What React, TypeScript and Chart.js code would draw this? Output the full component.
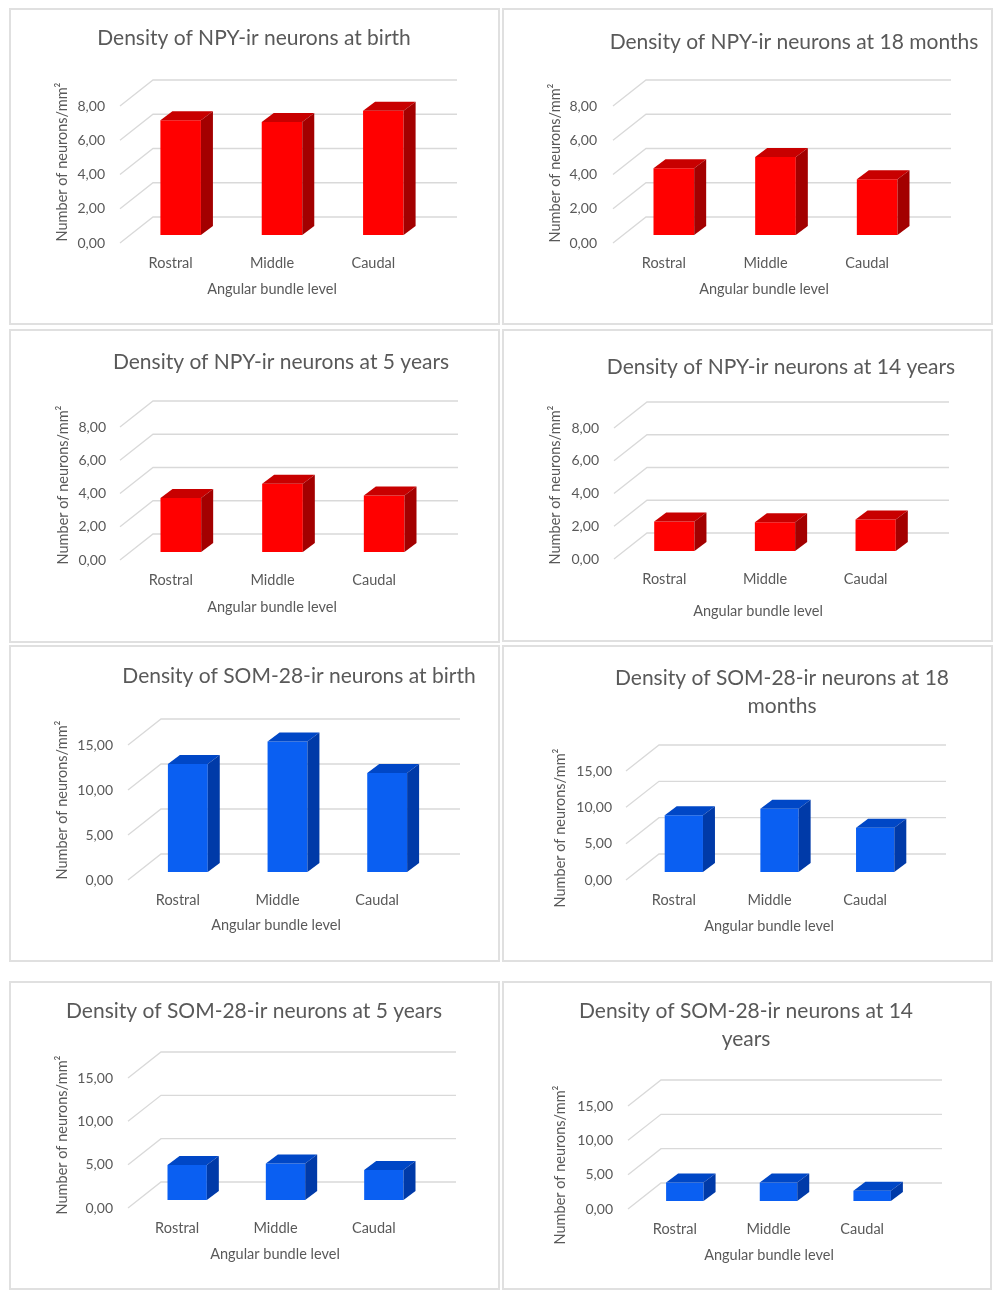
import React, { useEffect, useRef } from "react";
import { Chart, registerables } from "chart.js";

Chart.register(...registerables);

// ---------- data ----------
const categories = ["Rostral", "Middle", "Caudal"];

const npyBirth = [6.7, 6.6, 7.25];
const npy18Months = [3.9, 4.55, 3.25];
const npy5Years = [3.25, 4.1, 3.4];
const npy14Years = [1.8, 1.75, 1.93];

const somBirth = [12.0, 14.5, 11.0];
const som18Months = [7.8, 8.7, 6.1];
const som5Years = [4.05, 4.2, 3.45];
const som14Years = [2.7, 2.7, 1.5];

const npyTicks = [0, 2, 4, 6, 8];
const somTicks = [0, 5, 10, 15];

const xAxisTitle = "Angular bundle level";
const yAxisTitle = "Number of neurons/mm²";

const titleNpyBirth = ["Density of NPY-ir neurons at birth"];
const titleNpy18 = ["Density of NPY-ir neurons at 18 months"];
const titleNpy5 = ["Density of NPY-ir neurons at 5 years"];
const titleNpy14 = ["Density of NPY-ir neurons at 14 years"];
const titleSomBirth = ["Density of SOM-28-ir neurons at birth"];
const titleSom18 = ["Density of SOM-28-ir neurons at 18", "months"];
const titleSom5 = ["Density of SOM-28-ir neurons at 5 years"];
const titleSom14 = ["Density of SOM-28-ir neurons at 14", "years"];

// ---------- styles ----------
const FONT = "Lato, 'Open Sans', sans-serif";
const TEXT = "#595959";
const GRID = "#d9d9d9";
const RED = { front: "#ff0000", top: "#c80000", side: "#a30000" };
const BLUE = { front: "#0a5ff2", top: "#0047c6", side: "#003aa8" };

// 3D geometry (pixels)
const BACK_DX = 23;
const BACK_DY = 18;
const FRONT_DX = 10;
const FRONT_DY = 8;
const BAR_DX = 12;
const BAR_DY = 9;

type Colors = typeof RED;
type Spec = {
  title: string[];
  values: number[];
  ticks: number[];
  colors: Colors;
  box: [number, number, number, number];
  area: [number, number, number, number]; // left, right, zero-y, plot height (page px)
  titleX: number;
  titleY: number[];
  yTitle: [number, number];
  xTitle: [number, number];
  labelPad: number;
};

const specs: Spec[] = [
  { title: titleNpyBirth, values: npyBirth, ticks: npyTicks, colors: RED,
    box: [9, 8, 491, 317], area: [130, 434, 235, 137], titleX: 254, titleY: [38],
    yTitle: [62, 162], xTitle: [272, 289], labelPad: 25 },
  { title: titleNpy18, values: npy18Months, ticks: npyTicks, colors: RED,
    box: [502, 8, 491, 317], area: [623, 928, 235, 137], titleX: 794, titleY: [42],
    yTitle: [555, 163], xTitle: [764, 289], labelPad: 26 },
  { title: titleNpy5, values: npy5Years, ticks: npyTicks, colors: RED,
    box: [9, 329, 491, 314], area: [130, 435, 552, 133], titleX: 281, titleY: [362],
    yTitle: [63, 485], xTitle: [272, 607], labelPad: 24 },
  { title: titleNpy14, values: npy14Years, ticks: npyTicks, colors: RED,
    box: [502, 329, 491, 313], area: [624, 926, 551, 131], titleX: 781, titleY: [367],
    yTitle: [555, 485], xTitle: [758, 611], labelPad: 25 },
  { title: titleSomBirth, values: somBirth, ticks: somTicks, colors: BLUE,
    box: [9, 645, 491, 317], area: [138, 437, 872, 135], titleX: 299, titleY: [676],
    yTitle: [62, 800], xTitle: [276, 925], labelPad: 25 },
  { title: titleSom18, values: som18Months, ticks: somTicks, colors: BLUE,
    box: [502, 645, 491, 317], area: [636, 923, 872, 109], titleX: 782, titleY: [678, 706],
    yTitle: [560, 828], xTitle: [769, 926], labelPad: 24 },
  { title: titleSom5, values: som5Years, ticks: somTicks, colors: BLUE,
    box: [9, 981, 491, 309], area: [138, 433, 1200, 130], titleX: 254, titleY: [1011],
    yTitle: [62, 1135], xTitle: [275, 1254], labelPad: 25 },
  { title: titleSom14, values: som14Years, ticks: somTicks, colors: BLUE,
    box: [502, 981, 490, 309], area: [638, 919, 1201, 103], titleX: 746, titleY: [1011, 1039],
    yTitle: [560, 1165], xTitle: [769, 1255], labelPad: 25 },
];

function Panel({ spec }: { spec: Spec }) {
  const ref = useRef<HTMLCanvasElement | null>(null);
  const [bx, by, W, H] = spec.box;

  useEffect(() => {
    if (!ref.current) return;
    const L = spec.area[0] - bx;
    const R = spec.area[1] - bx;
    const B = spec.area[2] - by;
    const T = B - spec.area[3];
    const XH = 40;
    const maxV = spec.ticks[spec.ticks.length - 1];

    const threeD = {
      id: "threeD",
      beforeDatasetsDraw(chart: any) {
        const { ctx, chartArea: a } = chart;
        const ys = chart.scales.y;
        ctx.save();
        ctx.strokeStyle = GRID;
        ctx.lineWidth = 1.3;
        for (const v of spec.ticks) {
          const py = ys.getPixelForValue(v);
          ctx.beginPath();
          ctx.moveTo(a.left - FRONT_DX, py + FRONT_DY);
          ctx.lineTo(a.left + BACK_DX, py - BACK_DY);
          ctx.lineTo(a.right + BACK_DX, py - BACK_DY);
          ctx.stroke();
        }
        ctx.restore();
      },
      afterDatasetsDraw(chart: any) {
        const { ctx } = chart;
        const meta = chart.getDatasetMeta(0);
        ctx.save();
        meta.data.forEach((el: any) => {
          const { x, y, base, width } = el.getProps(["x", "y", "base", "width"], true);
          const l = x - width / 2;
          const r = x + width / 2;
          ctx.fillStyle = spec.colors.top;
          ctx.beginPath();
          ctx.moveTo(l, y);
          ctx.lineTo(l + BAR_DX, y - BAR_DY);
          ctx.lineTo(r + BAR_DX, y - BAR_DY);
          ctx.lineTo(r, y);
          ctx.closePath();
          ctx.fill();
          ctx.fillStyle = spec.colors.side;
          ctx.beginPath();
          ctx.moveTo(r, y);
          ctx.lineTo(r + BAR_DX, y - BAR_DY);
          ctx.lineTo(r + BAR_DX, base - BAR_DY);
          ctx.lineTo(r, base);
          ctx.closePath();
          ctx.fill();
        });
        ctx.restore();
      },
      afterDraw(chart: any) {
        const { ctx } = chart;
        ctx.save();
        ctx.fillStyle = TEXT;
        ctx.textAlign = "center";
        ctx.textBaseline = "middle";
        ctx.font = `21px ${FONT}`;
        spec.title.forEach((t, i) => {
          ctx.fillText(t, spec.titleX - bx, spec.titleY[i] - by);
        });
        ctx.font = `14.5px ${FONT}`;
        ctx.fillText(xAxisTitle, spec.xTitle[0] - bx, spec.xTitle[1] - by);
        ctx.translate(spec.yTitle[0] - bx, spec.yTitle[1] - by);
        ctx.rotate(-Math.PI / 2);
        ctx.fillText(yAxisTitle, 0, 0);
        ctx.restore();
      },
    };

    const chart = new Chart(ref.current, {
      type: "bar",
      data: {
        labels: categories,
        datasets: [
          {
            data: spec.values,
            backgroundColor: spec.colors.front,
            borderWidth: 0,
            barPercentage: 0.4,
            categoryPercentage: 1,
          },
        ],
      },
      options: {
        animation: false,
        responsive: false,
        maintainAspectRatio: false,
        events: [],
        layout: { padding: { left: 0, right: W - R, top: T, bottom: H - B - XH } },
        plugins: {
          legend: { display: false },
          title: { display: false },
          tooltip: { enabled: false },
        },
        scales: {
          x: {
            offset: true,
            grid: { display: false, drawTicks: false },
            border: { display: false },
            ticks: {
              padding: 20,
              labelOffset: -FRONT_DX,
              color: TEXT,
              font: { family: FONT, size: 14.5 },
              maxRotation: 0,
            },
            afterFit: (s: any) => {
              s.height = XH;
            },
          },
          y: {
            min: 0,
            max: maxV,
            grid: { display: false, drawTicks: false },
            border: { display: false },
            ticks: {
              padding: spec.labelPad,
              labelOffset: FRONT_DY,
              color: TEXT,
              font: { family: FONT, size: 14 },
              callback: (v: any) => Number(v).toFixed(2).replace(".", ","),
            },
            afterBuildTicks: (s: any) => {
              s.ticks = spec.ticks.map((v) => ({ value: v }));
            },
            afterFit: (s: any) => {
              s.width = L;
            },
          },
        },
      },
      plugins: [threeD],
    } as any);
    return () => chart.destroy();
  }, [spec]);

  return (
    <div style={{ position: "absolute", left: bx, top: by, width: W, height: H, background: "#fff" }}>
      <canvas ref={ref} width={W} height={H} style={{ display: "block", width: W, height: H }} />
      <div
        style={{
          position: "absolute",
          left: 0,
          top: 0,
          width: W,
          height: H,
          boxSizing: "border-box",
          border: "2px solid #e0e0e0",
          pointerEvents: "none",
        }}
      />
    </div>
  );
}

export default function App() {
  return (
    <div style={{ position: "absolute", left: 0, top: 0, width: 1004, height: 1300, background: "#fff" }}>
      {specs.map((s, i) => (
        <Panel key={i} spec={s} />
      ))}
    </div>
  );
}
